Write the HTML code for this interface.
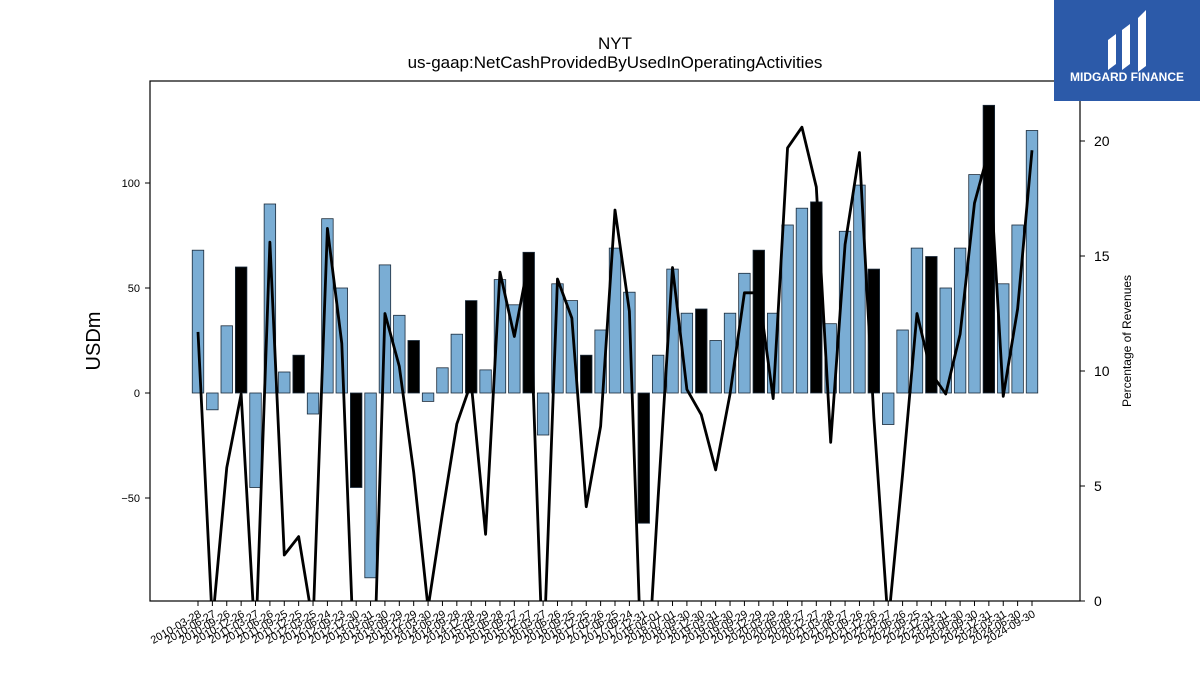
<!DOCTYPE html>
<html><head><meta charset="utf-8"><style>
html,body{margin:0;padding:0;background:#fff;font-family:"Liberation Sans",sans-serif;width:1200px;height:675px;overflow:hidden}
svg{display:block}
svg text{font-family:"Liberation Sans",sans-serif}
</style></head><body>
<svg id="c" width="1200" height="675" xmlns="http://www.w3.org/2000/svg">
<defs><clipPath id="clip"><rect x="150" y="81" width="930" height="520"/></clipPath></defs>
<text x="615" y="49" text-anchor="middle" font-size="17">NYT</text>
<text x="615" y="68" text-anchor="middle" font-size="17">us-gaap:NetCashProvidedByUsedInOperatingActivities</text>
<g id="bars"></g>
<g id="line" clip-path="url(#clip)"></g>
<rect x="150" y="81" width="930" height="520" fill="none" stroke="#000" stroke-width="1.2"/>
<g id="axes"></g>
<text transform="translate(100,341) rotate(-90)" text-anchor="middle" font-size="20">USDm</text>
<text transform="translate(1131,341) rotate(-90)" text-anchor="middle" font-size="12">Percentage of Revenues</text>
<g>
<rect x="1054" y="0" width="146" height="101" fill="#2c5aa9"/>
<path d="M1108 40 l8 -6 v30 l-8 6z M1122 30 l8 -6 v40 l-8 6z M1138 18 l8 -8 v56 l-8 6z" fill="#fff"/>
<text x="1127" y="81" text-anchor="middle" font-size="12" font-weight="bold" fill="#fff">MIDGARD FINANCE</text>
</g>
</svg>
<script>
const dates=["2010-03-28","2010-06-27","2010-09-26","2010-12-26","2011-03-27","2011-06-26","2011-09-25","2011-12-25","2012-03-25","2012-06-24","2012-09-23","2012-12-30","2013-03-31","2013-06-30","2013-09-29","2013-12-29","2014-03-30","2014-06-29","2014-09-28","2014-12-28","2015-03-29","2015-06-28","2015-09-27","2015-12-27","2016-03-27","2016-06-26","2016-09-25","2016-12-25","2017-03-26","2017-06-25","2017-09-24","2017-12-31","2018-04-01","2018-07-01","2018-09-30","2018-12-30","2019-03-31","2019-06-30","2019-09-29","2019-12-29","2020-03-29","2020-06-28","2020-09-27","2020-12-27","2021-03-28","2021-06-27","2021-09-26","2021-12-26","2022-03-27","2022-06-26","2022-09-25","2022-12-31","2023-03-31","2023-06-30","2023-09-30","2023-12-31","2024-03-31","2024-06-30","2024-09-30"];
const cash=[68,-8,32,60,-45,90,10,18,-10,83,50,-45,-88,61,37,25,-4,12,28,44,11,54,42,67,-20,52,44,18,30,69,48,-62,18,59,38,40,25,38,57,68,38,80,88,91,33,77,99,59,-15,30,69,65,50,69,104,137,52,80,125];
const pct=[11.7,-1,5.8,9,-2,15.6,2,2.8,-1,16.2,11.2,-5,-8,12.5,10.2,5.6,-0.3,3.8,7.7,9.5,2.9,14.3,11.5,14.8,-3,14,12.3,4.1,7.6,17,12.6,-6,4.5,14.5,9.2,8.1,5.7,9,13.4,13.4,8.8,19.7,20.6,18,6.9,15.5,19.5,8,-1,5.5,12.5,9.9,9,11.6,17.3,19.6,8.9,12.7,19.6];
const yTicks=[-50,0,50,100];
const y2Ticks=[0,5,10,15,20];
const NS="http://www.w3.org/2000/svg";
const X0=198,X1=1032;
function x(i){return X0+(X1-X0)*i/(dates.length-1);}
function y(v){return 393-v*2.1;}
function y2(v){return 601-v*23;}
const bw=(X1-X0)/(dates.length-1)*0.8;
function mk(t,a,p){const e=document.createElementNS(NS,t);for(const k in a)e.setAttribute(k,a[k]);p.appendChild(e);return e;}
const bars=document.getElementById('bars'),line=document.getElementById('line'),axes=document.getElementById('axes');
cash.forEach((v,i)=>{
 const black=i%4===3;
 const r=mk('rect',{x:x(i)-bw/2,y:Math.min(y(v),y(0)),width:bw,height:Math.abs(y(v)-y(0)),fill:black?'#000':'#7aadd4',stroke:'#1a2a3a','stroke-width':0.8},bars);
 
 
});
const p=mk('polyline',{points:pct.map((v,i)=>x(i)+','+y2(v)).join(' '),fill:'none',stroke:'#000','stroke-width':2.8,'stroke-linejoin':'round'},line);


yTicks.forEach(v=>{
 mk('line',{x1:145,x2:150,y1:y(v),y2:y(v),stroke:'#000'},axes);
 const t=mk('text',{x:140,y:y(v)+4,'text-anchor':'end','font-size':11},axes);t.textContent=v<0?'\u2212'+(-v):v;
 
 
});
y2Ticks.forEach(v=>{
 mk('line',{x1:1080,x2:1085,y1:y2(v),y2:y2(v),stroke:'#000'},axes);
 const t=mk('text',{x:1094,y:y2(v)+5,'font-size':14},axes);t.textContent=v;
 
 
});
dates.forEach((d,i)=>{
 mk('line',{x1:x(i),x2:x(i),y1:601,y2:606,stroke:'#000'},axes);
 const t=mk('text',{transform:`translate(${x(i)+4},${616}) rotate(-30)`,'text-anchor':'end','font-size':11},axes);t.textContent=d;
 
 
});
</script>
</body></html>
